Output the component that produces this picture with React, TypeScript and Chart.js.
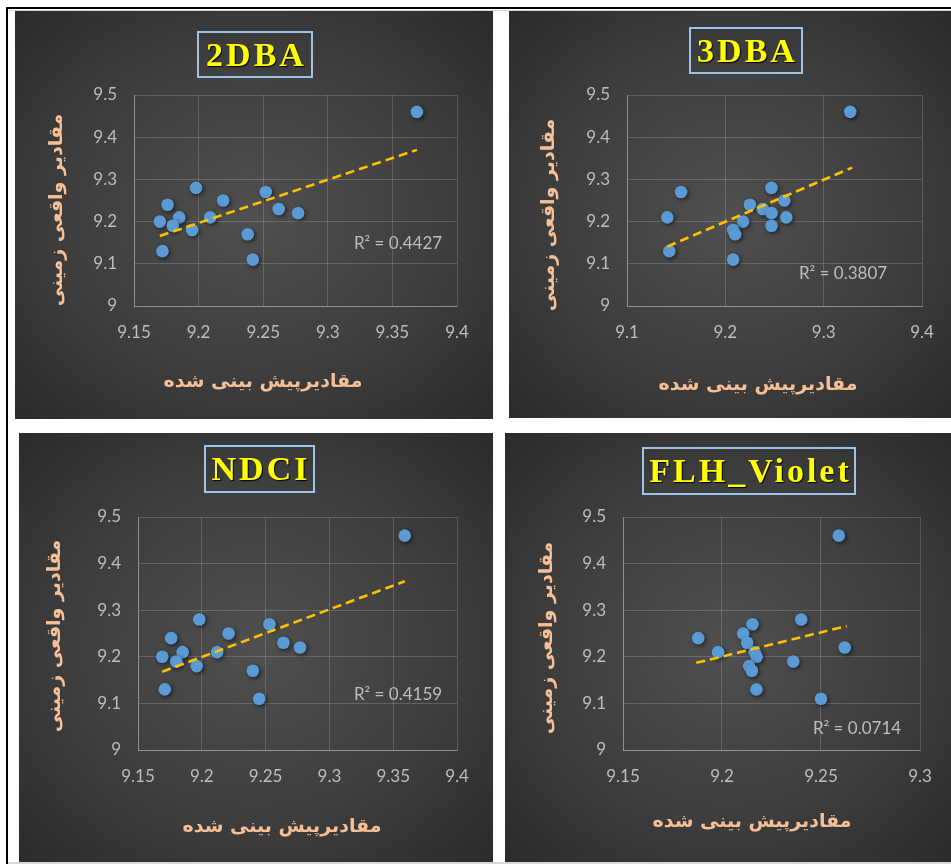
import React, { useEffect, useRef } from "react";
import { Chart, registerables } from "chart.js";

Chart.register(...registerables);

// ---------------- data ----------------
const panelNames = ["2DBA", "3DBA", "NDCI", "FLH_Violet"];
const r2Labels = ["R² = 0.4427", "R² = 0.3807", "R² = 0.4159", "R² = 0.0714"];
const xAxisTitle = "مقادیرپیش بینی شده";
const yAxisTitle = "مقادیر واقعی زمینی";

const yTicks = [9, 9.1, 9.2, 9.3, 9.4, 9.5];
const xTicks2DBA = [9.15, 9.2, 9.25, 9.3, 9.35, 9.4];
const xTicks3DBA = [9.1, 9.2, 9.3, 9.4];
const xTicksNDCI = [9.15, 9.2, 9.25, 9.3, 9.35, 9.4];
const xTicksFLH = [9.15, 9.2, 9.25, 9.3];

const pred2DBA = [9.369, 9.198, 9.176, 9.17, 9.185, 9.18, 9.195, 9.172, 9.209, 9.219, 9.252, 9.262, 9.277, 9.238, 9.242];
const act2DBA = [9.46, 9.28, 9.24, 9.2, 9.21, 9.19, 9.18, 9.13, 9.21, 9.25, 9.27, 9.23, 9.22, 9.17, 9.11];
const trendX2DBA = [9.17, 9.369];
const trendY2DBA = [9.166, 9.37];

const pred3DBA = [9.327, 9.155, 9.141, 9.143, 9.247, 9.225, 9.238, 9.247, 9.26, 9.262, 9.247, 9.218, 9.208, 9.21, 9.208];
const act3DBA = [9.46, 9.27, 9.21, 9.13, 9.28, 9.24, 9.23, 9.22, 9.25, 9.21, 9.19, 9.2, 9.18, 9.17, 9.11];
const trendX3DBA = [9.141, 9.329];
const trendY3DBA = [9.141, 9.328];

const predNDCI = [9.359, 9.198, 9.176, 9.169, 9.185, 9.18, 9.196, 9.171, 9.212, 9.221, 9.253, 9.264, 9.277, 9.24, 9.245];
const actNDCI = [9.46, 9.28, 9.24, 9.2, 9.21, 9.19, 9.18, 9.13, 9.21, 9.25, 9.27, 9.23, 9.22, 9.17, 9.11];
const trendXNDCI = [9.169, 9.359];
const trendYNDCI = [9.168, 9.362];

const predFLH = [9.259, 9.24, 9.262, 9.188, 9.198, 9.2154, 9.2107, 9.2127, 9.2165, 9.2175, 9.2137, 9.2151, 9.2174, 9.236, 9.25];
const actFLH = [9.46, 9.28, 9.22, 9.24, 9.21, 9.27, 9.25, 9.23, 9.21, 9.2, 9.18, 9.17, 9.13, 9.19, 9.11];
const trendXFLH = [9.187, 9.263];
const trendYFLH = [9.187, 9.266];

// ---------------- layout (page pixels) ----------------
type Box = { l: number; t: number; r: number; b: number };
type Layout = {
  box: Box;
  plot: Box;
  titleBox: Box;
  xTitle: [number, number];
  yTitle: [number, number];
  r2: [number, number];
};

const layouts: Layout[] = [
  { box: { l: 15, t: 11, r: 493, b: 419 }, plot: { l: 134, t: 95, r: 457, b: 306 }, titleBox: { l: 197, t: 31, r: 313, b: 78 }, xTitle: [263, 380], yTitle: [55, 210], r2: [398, 242] },
  { box: { l: 509, t: 11, r: 951, b: 418 }, plot: { l: 627, t: 95, r: 922, b: 306 }, titleBox: { l: 689, t: 27, r: 803, b: 74 }, xTitle: [758, 383], yTitle: [547, 215], r2: [843, 272] },
  { box: { l: 19, t: 433, r: 493, b: 862 }, plot: { l: 138, t: 517, r: 457, b: 750 }, titleBox: { l: 204, t: 445, r: 315, b: 493 }, xTitle: [282, 825], yTitle: [53, 636], r2: [398, 693] },
  { box: { l: 505, t: 433, r: 951, b: 862 }, plot: { l: 623, t: 517, r: 920, b: 750 }, titleBox: { l: 642, t: 447, r: 856, b: 495 }, xTitle: [752, 820], yTitle: [545, 638], r2: [857, 727] },
];

type PanelData = {
  pred: number[];
  act: number[];
  trendX: number[];
  trendY: number[];
  xTicks: number[];
};

const panelData: PanelData[] = [
  { pred: pred2DBA, act: act2DBA, trendX: trendX2DBA, trendY: trendY2DBA, xTicks: xTicks2DBA },
  { pred: pred3DBA, act: act3DBA, trendX: trendX3DBA, trendY: trendY3DBA, xTicks: xTicks3DBA },
  { pred: predNDCI, act: actNDCI, trendX: trendXNDCI, trendY: trendYNDCI, xTicks: xTicksNDCI },
  { pred: predFLH, act: actFLH, trendX: trendXFLH, trendY: trendYFLH, xTicks: xTicksFLH },
];

// ---------------- styles ----------------
const GRID = "rgba(255,255,255,0.17)";
const AXIS = "rgba(255,255,255,0.30)";
const TICK = "#bdbdbd";
const POINT = "#5b9bd5";
const TREND = "#ffc000";
const TITLE_PEACH = "#f5bf98";
const PANEL_BG = "radial-gradient(ellipse farthest-corner at 50% 50%, #505050 0%, #3e3e3e 55%, #2b2b2b 100%)";

const fmt = (v: number) => String(Math.round(v * 100) / 100);

const shadowPlugin = {
  id: "pointShadow",
  beforeDatasetDraw(chart: any, args: any) {
    if (args.index === 1) {
      const c = chart.ctx;
      c.save();
      c.shadowColor = "rgba(0,0,0,0.6)";
      c.shadowBlur = 4;
      c.shadowOffsetX = 1.5;
      c.shadowOffsetY = 1.5;
    }
  },
  afterDatasetDraw(chart: any, args: any) {
    if (args.index === 1) chart.ctx.restore();
  },
};

function Panel({ layout, data }: { layout: Layout; data: PanelData }) {
  const ref = useRef<HTMLCanvasElement>(null);
  const { box, plot } = layout;
  const W = box.r - box.l;
  const H = box.b - box.t;

  useEffect(() => {
    if (!ref.current) return;
    const xMin = data.xTicks[0];
    const xMax = data.xTicks[data.xTicks.length - 1];
    const chart = new Chart(ref.current, {
      type: "scatter",
      data: {
        datasets: [
          {
            type: "line",
            data: data.trendX.map((x, i) => ({ x, y: data.trendY[i] })),
            borderColor: TREND,
            borderWidth: 2.6,
            borderDash: [9, 5],
            pointRadius: 0,
            fill: false,
            tension: 0,
          } as any,
          {
            data: data.pred.map((x, i) => ({ x, y: data.act[i] })),
            backgroundColor: POINT,
            borderColor: POINT,
            borderWidth: 0,
            pointRadius: 6.3,
          },
        ],
      },
      options: {
        responsive: false,
        animation: false,
        devicePixelRatio: 1,
        layout: { padding: { left: 0, top: plot.t - box.t, right: box.r - plot.r, bottom: 0 } },
        plugins: { legend: { display: false }, tooltip: { enabled: false }, title: { display: false } },
        scales: {
          x: {
            type: "linear",
            min: xMin,
            max: xMax,
            afterBuildTicks: (s: any) => {
              s.ticks = data.xTicks.map((v) => ({ value: v }));
            },
            afterFit: (s: any) => {
              s.height = box.b - plot.b;
            },
            grid: { color: GRID, drawTicks: false, lineWidth: 1 },
            border: { color: AXIS, width: 1 },
            ticks: {
              color: TICK,
              autoSkip: false,
              maxRotation: 0,
              padding: 16,
              font: { family: "Lato", size: 17 },
              callback: (v: any) => fmt(Number(v)),
            },
          },
          y: {
            type: "linear",
            min: yTicks[0],
            max: yTicks[yTicks.length - 1],
            afterBuildTicks: (s: any) => {
              s.ticks = yTicks.map((v) => ({ value: v }));
            },
            afterFit: (s: any) => {
              s.width = plot.l - box.l;
            },
            grid: { color: GRID, drawTicks: false, lineWidth: 1 },
            border: { color: AXIS, width: 1 },
            ticks: {
              color: TICK,
              autoSkip: false,
              padding: 17,
              font: { family: "Lato", size: 17 },
              callback: (v: any) => fmt(Number(v)),
            },
          },
        },
      },
      plugins: [shadowPlugin],
    } as any);
    return () => chart.destroy();
  }, []);

  return (
    <div
      style={{
        position: "absolute",
        left: box.l,
        top: box.t,
        width: W,
        height: H,
        background: PANEL_BG,
      }}
    >
      <canvas ref={ref} width={W} height={H} style={{ display: "block", width: W, height: H }} />
    </div>
  );
}

const centered = (x: number, y: number, extra = ""): React.CSSProperties => ({
  position: "absolute",
  left: x,
  top: y,
  transform: `translate(-50%, -50%) ${extra}`,
  whiteSpace: "nowrap",
  lineHeight: 1,
});

export default function App() {
  return (
    <div style={{ position: "absolute", left: 0, top: 0, width: 951, height: 864, background: "#ffffff", overflow: "hidden" }}>
      {/* outer frame */}
      <div style={{ position: "absolute", left: 6, top: 7, width: 945, height: 2, background: "#000" }} />
      <div style={{ position: "absolute", left: 6, top: 7, width: 2, height: 857, background: "#000" }} />
      <div style={{ position: "absolute", left: 9, top: 10, width: 942, height: 1, background: "#d4d4d4" }} />
      <div style={{ position: "absolute", left: 8, top: 862, width: 943, height: 2, background: "#d8d8d8" }} />

      {layouts.map((lay, i) => (
        <Panel key={i} layout={lay} data={panelData[i]} />
      ))}

      {layouts.map((lay, i) => (
        <React.Fragment key={"t" + i}>
          <div
            style={{
              position: "absolute",
              left: lay.titleBox.l,
              top: lay.titleBox.t,
              width: lay.titleBox.r - lay.titleBox.l,
              height: lay.titleBox.b - lay.titleBox.t,
              border: "2px solid #9dc3e6",
              boxSizing: "border-box",
              display: "flex",
              alignItems: "center",
              justifyContent: "center",
            }}
          >
            <span
              style={{
                fontFamily: '"Liberation Serif", "Times New Roman", serif',
                fontWeight: "bold",
                fontSize: 34,
                color: "#ffff00",
                letterSpacing: 3,
                paddingLeft: 3,
                lineHeight: 1,
                textShadow: "1px 1px 1px #000",
              }}
            >
              {panelNames[i]}
            </span>
          </div>
          <div
            dir="rtl"
            style={{
              ...centered(lay.xTitle[0], lay.xTitle[1]),
              fontFamily: '"DejaVu Sans", sans-serif',
              fontWeight: "bold",
              fontSize: 19,
              color: TITLE_PEACH,
            }}
          >
            {xAxisTitle}
          </div>
          <div
            dir="rtl"
            style={{
              ...centered(lay.yTitle[0], lay.yTitle[1], "rotate(-90deg)"),
              fontFamily: '"DejaVu Sans", sans-serif',
              fontWeight: "bold",
              fontSize: 19,
              color: TITLE_PEACH,
            }}
          >
            {yAxisTitle}
          </div>
          <div
            style={{
              ...centered(lay.r2[0], lay.r2[1]),
              fontFamily: "Lato, sans-serif",
              fontSize: 17,
              color: "#bdbdbd",
            }}
          >
            {r2Labels[i]}
          </div>
        </React.Fragment>
      ))}
    </div>
  );
}
